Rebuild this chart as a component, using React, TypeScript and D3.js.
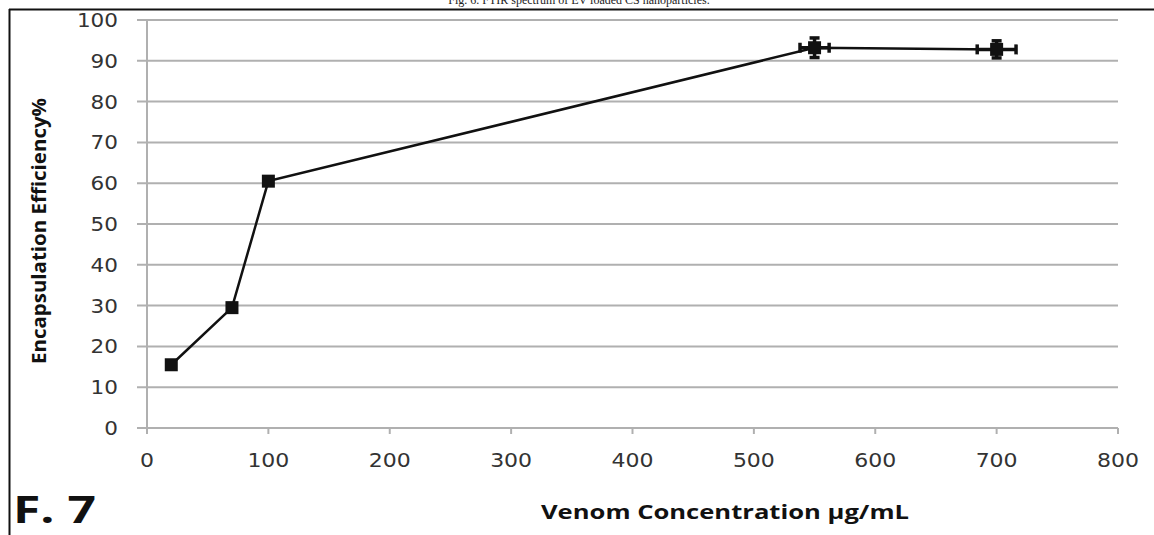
import React from "react";
import * as d3 from "d3";

// Encapsulation efficiency vs. venom concentration
const concentrations = [20, 70, 100, 550, 700];
const efficiency = [15.5, 29.5, 60.5, 93.2, 92.8];
const xErr = [3, 3, 1.5, 12, 16];
const yErr = [0.9, 0.9, 0.6, 2.4, 2.1];
const xTicks = [0, 100, 200, 300, 400, 500, 600, 700, 800];
const yTicks = [0, 10, 20, 30, 40, 50, 60, 70, 80, 90, 100];

const W = 1154;
const H = 535;

export default function App() {
  const x = d3.scaleLinear().domain([0, 800]).range([147, 1118]);
  const y = d3.scaleLinear().domain([0, 100]).range([428, 20]);
  const pts = concentrations.map((c, i) => ({ c, v: efficiency[i], ex: xErr[i], ey: yErr[i] }));
  const line = d3
    .line<{ c: number; v: number }>()
    .x((d) => x(d.c))
    .y((d) => y(d.v));

  const grid = "#b0b0b0";
  const tickFont = "'DejaVu Sans', sans-serif";
  const m = 6.5; // half marker size
  const cap = 5;

  return (
    <svg
      width={W}
      height={H}
      style={{ position: "absolute", left: 0, top: 0, background: "#fff" }}
    >
      <rect x={0} y={0} width={W} height={H} fill="#fff" />
      {/* caption of the preceding figure, cut at the page edge */}
      <text
        x={579}
        y={4}
        textAnchor="middle"
        fontFamily="'Liberation Serif', serif"
        fontSize={12}
        fill="#222"
      >
        Fig. 6. FTIR spectrum of EV loaded CS nanoparticles.
      </text>
      {/* frame */}
      <line x1={9} x2={W} y1={9.5} y2={9.5} stroke="#111" strokeWidth={2} />
      <line x1={9.5} x2={9.5} y1={9} y2={H} stroke="#111" strokeWidth={2} />

      {/* horizontal gridlines with left ticks */}
      {yTicks.map((t) => (
        <g key={"y" + t}>
          <line x1={137} x2={x(800)} y1={y(t)} y2={y(t)} stroke={grid} strokeWidth={2} />
          <text
            x={118}
            y={y(t) + 7}
            textAnchor="end"
            fontFamily={tickFont}
            fontSize={19}
            fill="#333"
            textLength={String(t).length * 13.7}
            lengthAdjust="spacingAndGlyphs"
          >
            {t}
          </text>
        </g>
      ))}
      {/* y axis */}
      <line x1={x(0)} x2={x(0)} y1={y(100)} y2={y(0) + 6} stroke={grid} strokeWidth={2} />
      {/* x ticks */}
      {xTicks.map((t) => (
        <g key={"x" + t}>
          <line x1={x(t)} x2={x(t)} y1={y(0)} y2={y(0) + 6} stroke={grid} strokeWidth={2} />
          <text
            x={x(t)}
            y={467}
            textAnchor="middle"
            fontFamily={tickFont}
            fontSize={19}
            fill="#333"
            textLength={String(t).length * 14}
            lengthAdjust="spacingAndGlyphs"
          >
            {t}
          </text>
        </g>
      ))}

      {/* data line */}
      <path d={line(pts) ?? ""} fill="none" stroke="#111" strokeWidth={2.5} />

      {/* error bars and markers */}
      {pts.map((p, i) => {
        const cx = x(p.c);
        const cy = y(p.v);
        const x0 = x(p.c - p.ex);
        const x1 = x(p.c + p.ex);
        const y0 = y(p.v - p.ey);
        const y1 = y(p.v + p.ey);
        return (
          <g key={"p" + i} stroke="#111" strokeWidth={3.5}>
            <line x1={x0} x2={x1} y1={cy} y2={cy} />
            <line x1={x0} x2={x0} y1={cy - cap} y2={cy + cap} />
            <line x1={x1} x2={x1} y1={cy - cap} y2={cy + cap} />
            <line x1={cx} x2={cx} y1={y0} y2={y1} />
            <line x1={cx - cap} x2={cx + cap} y1={y0} y2={y0} />
            <line x1={cx - cap} x2={cx + cap} y1={y1} y2={y1} />
            <rect x={cx - m} y={cy - m} width={2 * m} height={2 * m} fill="#111" strokeWidth={0} />
          </g>
        );
      })}

      {/* axis titles */}
      <text
        transform={`translate(46, 231) rotate(-90)`}
        textAnchor="middle"
        fontFamily="'Open Sans', sans-serif"
        fontWeight="bold"
        fontSize={19}
        fill="#111"
        textLength={266}
        lengthAdjust="spacingAndGlyphs"
      >
        Encapsulation Efficiency%
      </text>
      <text
        x={725}
        y={519}
        textAnchor="middle"
        fontFamily="'Open Sans', sans-serif"
        fontWeight="bold"
        fontSize={19}
        fill="#111"
        textLength={368}
        lengthAdjust="spacingAndGlyphs"
      >
        Venom Concentration µg/mL
      </text>
      <text
        x={13}
        y={523}
        fontFamily="'Open Sans', sans-serif"
        fontWeight="bold"
        fontSize={38}
        fill="#111"
        textLength={83}
        lengthAdjust="spacingAndGlyphs"
      >
        F. 7
      </text>
    </svg>
  );
}
